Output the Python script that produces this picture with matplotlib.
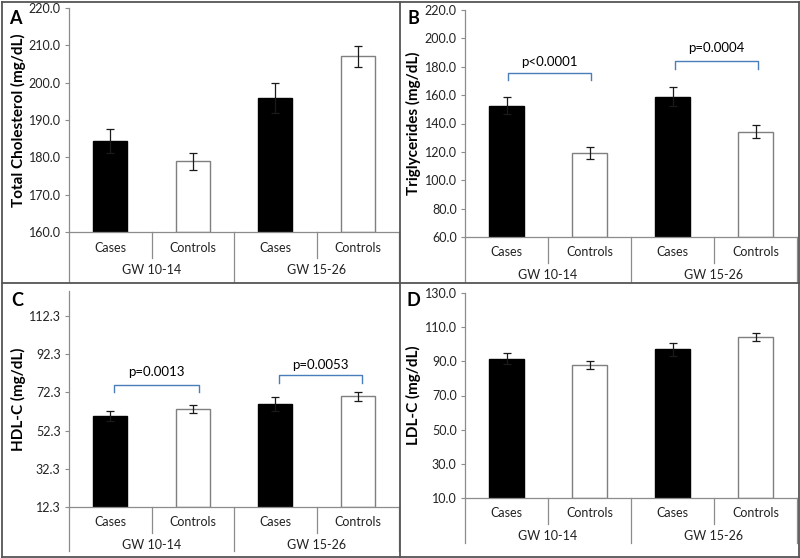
import numpy as np
import matplotlib.pyplot as plt
from matplotlib.lines import Line2D

plt.rcParams['font.family'] = ['Lato', 'DejaVu Sans']

categories = ['Cases', 'Controls', 'Cases', 'Controls']
groups = ['GW 10-14', 'GW 15-26']

tc_mean = [184.4, 178.9, 195.9, 207.1]
tc_err = [3.3, 2.2, 4.0, 2.8]
tg_mean = [152.5, 119.3, 158.8, 134.1]
tg_err = [6.1, 4.2, 6.6, 4.5]
hdl_mean = [59.8, 63.8, 66.1, 70.3]
hdl_err = [2.6, 2.1, 3.8, 2.3]
ldl_mean = [91.6, 88.0, 97.0, 104.2]
ldl_err = [3.1, 2.2, 3.7, 2.2]

W, H = 800, 558
fig = plt.figure(figsize=(8, 5.58), dpi=100)

gray = '#8c8c8c'


def make_axes(left, top, right, bottom):
    return fig.add_axes([left / W, 1 - bottom / H, (right - left) / W, (bottom - top) / H])


def panel(ax, means, errs, ylim, ticks, ticklabels, ylabel, letter, lab_x, letter_pos,
          cat_dy, grp_dy, long_dy):
    x = np.arange(len(means))
    colors = ['black', 'white', 'black', 'white']
    edges = ['black', '#7f7f7f', 'black', '#7f7f7f']
    ax.bar(x, np.array(means) - ylim[0], bottom=ylim[0], width=0.41,
           color=colors, edgecolor=edges, linewidth=1.0, zorder=2)
    ax.errorbar(x, means, yerr=errs, fmt='none', ecolor='#1a1a1a',
                elinewidth=0.9, capsize=3, capthick=0.9, zorder=3)
    ax.set_xlim(-0.5, 3.5)
    ax.set_ylim(*ylim)
    ax.set_yticks(ticks)
    ax.set_yticklabels(ticklabels, fontsize=9, color='#222222')
    ax.set_xticks([])
    for s in ['top', 'right']:
        ax.spines[s].set_visible(False)
    for s in ['left', 'bottom']:
        ax.spines[s].set_color(gray)
        ax.spines[s].set_linewidth(0.9)
    ax.tick_params(axis='y', direction='out', length=3, width=0.8, color=gray, pad=3)

    h = ax.get_position().height * H
    trans = ax.get_xaxis_transform()
    for i, c in enumerate(categories):
        ax.text(i, -cat_dy / h, c, transform=trans, ha='center', va='center',
                fontsize=9, color='#222222')
    for j, g in enumerate(groups):
        ax.text(0.5 + 2 * j, -grp_dy / h, g, transform=trans, ha='center', va='center',
                fontsize=9, color='#222222')
    for xs in [0.5, 2.5]:
        ax.plot([xs, xs], [0, -26 / h], transform=trans, color=gray, lw=0.9, clip_on=False)
    for xs in [-0.5, 1.5, 3.5]:
        ax.plot([xs, xs], [0, -long_dy / h], transform=trans, color=gray, lw=0.9, clip_on=False)

    pos = ax.get_position()
    fig.text(lab_x / W, pos.y0 + pos.height / 2, ylabel, rotation=90, ha='center',
             va='center', fontsize=11, fontweight='bold')
    fig.text(letter_pos[0] / W, 1 - letter_pos[1] / H, letter, ha='center', va='center',
             fontsize=13, fontweight='bold')


def bracket(ax, x0, x1, y, drop, label, ty):
    ax.plot([x0, x0, x1, x1], [y - drop, y, y, y - drop], color='#4a7ebb', lw=1.0, zorder=4)
    ax.text((x0 + x1) / 2, ty, label, ha='center', va='center', fontsize=9.5)


axA = make_axes(69, 8, 399, 232)
panel(axA, tc_mean, tc_err, (160, 220), np.arange(160, 221, 10),
      ['%.1f' % v for v in np.arange(160, 221, 10)],
      'Total Cholesterol (mg/dL)', 'A', 18, (15, 19), 16, 38, 50)

axB = make_axes(465, 10, 797, 237)
panel(axB, tg_mean, tg_err, (60, 220), np.arange(60, 221, 20),
      ['%.1f' % v for v in np.arange(60, 221, 20)],
      'Triglycerides (mg/dL)', 'B', 413, (413, 18), 15, 38, 45)
bracket(axB, 0.02, 1.02, 175.3, 4.7, 'p<0.0001', 183)
bracket(axB, 2.03, 3.03, 183.8, 5.4, 'p=0.0004', 193)

hdl_ticks = [12.3, 32.3, 52.3, 72.3, 92.3, 112.3]
axC = make_axes(69, 291, 399, 507)
panel(axC, hdl_mean, hdl_err, (12.3, 125.3), hdl_ticks,
      ['%.1f' % v for v in hdl_ticks],
      'HDL-C (mg/dL)', 'C', 18, (17, 301), 15, 38, 44)
bracket(axC, 0.05, 1.07, 75.9, 3.3, 'p=0.0013', 83)
bracket(axC, 2.04, 3.05, 81.1, 3.8, 'p=0.0053', 86.6)

axD = make_axes(465, 293, 797, 498)
panel(axD, ldl_mean, ldl_err, (10, 130), np.arange(10, 131, 20),
      ['%.1f' % v for v in np.arange(10, 131, 20)],
      'LDL-C (mg/dL)', 'D', 413, (413, 300), 15, 38, 45)

# panel frames
border = '#555555'
frame = [
    ([1.5, 798.5], [1.5, 1.5]),
    ([1.5, 798.5], [556.5, 556.5]),
    ([1.5, 1.5], [1.5, 556.5]),
    ([798.5, 798.5], [1.5, 556.5]),
    ([399.5, 399.5], [1.5, 556.5]),
    ([1.5, 798.5], [283, 283]),
]
for xs, ys in frame:
    fig.add_artist(Line2D([v / W for v in xs], [1 - v / H for v in ys],
                          color=border, lw=1.3))

fig.savefig('out.png', dpi=100)
